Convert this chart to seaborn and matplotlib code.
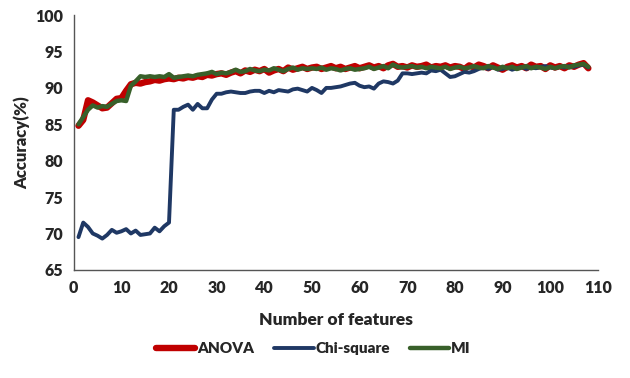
import numpy as np
import pandas as pd
import matplotlib.pyplot as plt
import seaborn as sns

# feature counts 1..108
n_features = list(range(1, 109))

anova = [
    84.8, 85.6, 88.3, 88.0, 87.6, 87.2, 87.3, 87.9, 88.5, 88.6,
    89.6, 90.5, 90.7, 90.6, 90.8, 90.9, 91.1, 91.0, 91.2, 91.3,
    91.2, 91.4, 91.3, 91.5, 91.4, 91.6, 91.5, 91.8, 91.7, 91.9,
    92.0, 91.8, 92.1, 92.3, 92.0, 92.4, 92.2, 92.5, 92.3, 92.6,
    92.1, 92.4, 92.6, 92.3, 92.8, 92.5, 92.7, 92.9, 92.6, 92.8,
    92.9, 92.6, 92.8, 93.0, 92.7, 92.9, 92.6, 92.8, 93.0, 92.7,
    92.9, 93.1, 92.8, 93.0, 92.7, 93.1, 93.3, 92.9, 93.0, 92.8,
    93.1, 92.9, 93.0, 93.2, 92.8, 93.0, 92.9, 93.1, 92.8, 93.0,
    92.9, 92.6, 93.1, 92.8, 93.2, 93.0, 92.7, 93.1, 92.8, 92.5,
    92.9, 93.1, 92.8, 93.0, 92.7, 93.2, 92.9, 93.0, 92.6, 93.1,
    92.8, 93.0, 92.7, 93.1, 92.9, 93.2, 93.4, 92.7,
]

chi_square = [
    69.5, 71.5, 70.9, 70.0, 69.7, 69.3, 69.8, 70.5, 70.1, 70.3,
    70.6, 70.0, 70.4, 69.8, 69.9, 70.0, 70.8, 70.3, 71.0, 71.5,
    87.0, 87.0, 87.4, 87.7, 87.0, 87.8, 87.2, 87.2, 88.4, 89.2,
    89.2, 89.4, 89.5, 89.4, 89.3, 89.3, 89.5, 89.6, 89.6, 89.3,
    89.6, 89.4, 89.7, 89.6, 89.5, 89.8, 89.9, 89.7, 89.5, 90.0,
    89.7, 89.3, 90.0, 90.0, 90.1, 90.2, 90.4, 90.6, 90.7, 90.3,
    90.1, 90.2, 89.9, 90.6, 90.9, 90.8, 90.6, 91.0, 92.0, 92.0,
    91.9, 92.0, 92.1, 92.0, 92.4, 92.3, 92.5, 92.0, 91.5, 91.6,
    91.9, 92.2, 92.1, 92.3, 92.6, 92.8, 92.6, 92.9, 92.5, 92.6,
    92.8, 92.5, 92.7, 92.9, 92.6, 92.8, 92.7, 92.9, 93.0, 92.8,
    92.7, 92.9, 92.8, 93.0, 92.9, 93.1, 93.2, 92.8,
]

mi = [
    85.0, 86.0, 87.0, 87.6, 87.3, 87.5, 87.4, 87.8, 88.2, 88.3,
    88.2, 90.3, 90.9, 91.6, 91.5, 91.6, 91.5, 91.6, 91.5, 91.9,
    91.4, 91.5, 91.6, 91.7, 91.6, 91.8, 91.9, 92.0, 92.2, 91.9,
    92.1, 92.0, 92.2, 92.5, 92.2, 92.3, 92.6, 92.4, 92.3, 92.5,
    92.4, 92.7, 92.5, 92.3, 92.6, 92.8, 92.5, 92.7, 92.6, 92.7,
    92.6, 92.8, 92.5, 92.7, 92.6, 92.4, 92.6, 92.7, 92.5, 92.6,
    92.7, 92.9, 92.6, 92.8, 93.0, 92.7, 93.2, 92.9, 92.8, 92.9,
    93.0, 92.8, 92.9, 92.7, 92.9, 92.8, 92.7, 92.9, 92.6, 92.8,
    92.9, 92.7, 92.8, 93.0, 92.8, 92.7, 93.0, 92.8, 92.6, 92.9,
    92.7, 92.9, 92.6, 92.8, 93.0, 92.7, 92.9, 92.8, 92.6, 92.9,
    92.7, 92.9, 93.0, 92.8, 93.1, 93.2, 93.3, 92.9,
]

series = ['ANOVA', 'Chi-square', 'MI']
colors = {'ANOVA': '#C00000', 'Chi-square': '#1F3864', 'MI': '#38602A'}
widths = {'ANOVA': 4.6, 'Chi-square': 2.8, 'MI': 3.2}

df = pd.DataFrame({'features': n_features, 'ANOVA': anova,
                   'Chi-square': chi_square, 'MI': mi})
long_df = df.melt(id_vars='features', var_name='method', value_name='acc')

sns.set_style('white')
plt.rcParams['font.family'] = ['Lato', 'DejaVu Sans']
bold = 'heavy'

fig = plt.figure(figsize=(6.3, 3.78), dpi=100)
ax = fig.add_axes([0.117, 0.286, 0.832, 0.674])

for name in series:
    sns.lineplot(data=long_df[long_df['method'] == name], x='features', y='acc',
                 color=colors[name], linewidth=widths[name], label=name,
                 solid_capstyle='round', ax=ax)

ax.set_xlim(0, 110)
ax.set_ylim(65, 100)
ax.set_xticks(range(0, 111, 10))
ax.set_yticks(range(65, 101, 5))
ax.tick_params(axis='x', direction='in', length=4, color='#555555',
               labelsize=11.5, pad=7)
ax.tick_params(axis='y', direction='out', length=4, color='#555555',
               labelsize=11.5)
for lab in ax.get_xticklabels() + ax.get_yticklabels():
    lab.set_fontweight(bold)

sns.despine(ax=ax)
for side in ['left', 'bottom']:
    ax.spines[side].set_color('#555555')
    ax.spines[side].set_linewidth(1.0)

ax.set_xlabel('Number of features', fontsize=12.5, fontweight=bold, labelpad=12)
ax.set_ylabel('Accuracy(%)', fontsize=12, fontweight=bold, labelpad=4)

ax.legend(loc='center', bbox_to_anchor=(0.497, 0.078), bbox_transform=fig.transFigure,
          ncol=3, frameon=False, handlelength=2.6, handletextpad=0.1,
          columnspacing=1.3, prop={'weight': bold, 'size': 11})

fig.savefig('out.png', dpi=100)
